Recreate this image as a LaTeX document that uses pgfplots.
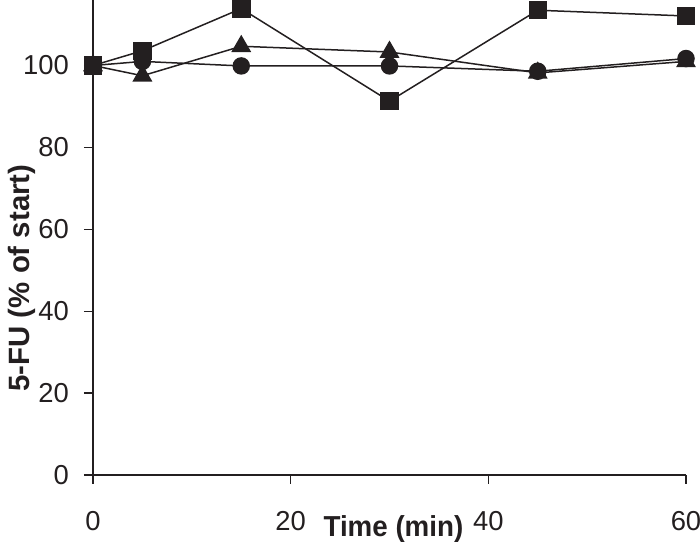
\documentclass[border=0pt]{standalone}
\usepackage{fontspec}
\setmainfont{Liberation Sans}
\usepackage{pgfplots}
\pgfplotsset{compat=1.18}
\definecolor{ink}{HTML}{231F20}
\begin{document}
\begin{tikzpicture}
\begin{axis}[
  scale only axis,
  width=593bp, height=475bp,
  xmin=0, xmax=60, ymin=0, ymax=116,
  axis x line*=bottom, axis y line*=left,
  axis line style={ink, line width=1.6bp},
  xtick={0,20,40,60}, ytick={0,20,40,60,80,100},
  tick align=outside, major tick length=9bp,
  tick style={ink, line width=1.4bp},
  /pgf/number format/assume math mode=true,
  ticklabel style={font=\fontsize{27.5}{30}\selectfont, text=ink, inner sep=0pt},
  xticklabel style={anchor=base, yshift=-46bp},
  yticklabel style={anchor=east, xshift=-15bp},
  clip=false,
  every axis plot/.append style={ink, line width=1.5bp},
]
\addplot[mark=triangle*, mark size=10bp, mark options={solid, fill=ink}] coordinates {
(0,100) (5,97.5) (15,104.7) (30,103.3) (45,98.2) (60,101)};
\addplot[mark=*, mark size=8bp, mark options={solid, fill=ink}] coordinates {
(0,100) (5,101) (15,99.9) (30,99.9) (45,98.6) (60,101.7)};
\addplot[mark=square*, mark size=8.5bp, mark options={solid, fill=ink}] coordinates {
(0,100) (5,103.6) (15,113.9) (30,91.3) (45,113.5) (60,112.1)};
\node[font=\fontsize{29}{32}\selectfont\bfseries, text=ink, anchor=base, xscale=0.96, inner sep=0pt] at (axis cs:30.4,-15.1) {Time (min)};
\node[font=\fontsize{29.5}{32}\selectfont\bfseries, text=ink, rotate=90, inner sep=0pt] at (axis cs:-7.18,48.1) {5-FU (\% of start)};
\end{axis}
\pgfresetboundingbox
\path ([shift={(-93bp,-68bp)}]current axis.south west) rectangle ([shift={(14bp,0bp)}]current axis.north east);
\end{tikzpicture}
\end{document}
